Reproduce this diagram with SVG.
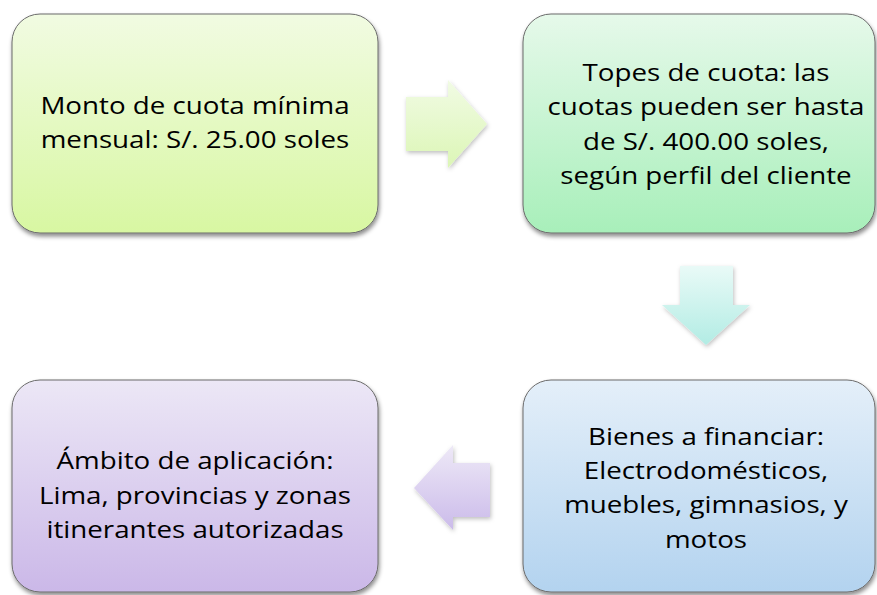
<svg xmlns="http://www.w3.org/2000/svg" width="877" height="595" viewBox="0 0 877 595">
  <defs>
    <linearGradient id="gGreenYellow" x1="0" y1="0" x2="0" y2="1">
      <stop offset="0" stop-color="#f1fbe2"/>
      <stop offset="1" stop-color="#d8f7a2"/>
    </linearGradient>
    <linearGradient id="gMint" x1="0" y1="0" x2="0" y2="1">
      <stop offset="0" stop-color="#e6f9ea"/>
      <stop offset="1" stop-color="#a8efba"/>
    </linearGradient>
    <linearGradient id="gBlue" x1="0" y1="0" x2="0" y2="1">
      <stop offset="0" stop-color="#e4eff9"/>
      <stop offset="1" stop-color="#b3d3ef"/>
    </linearGradient>
    <linearGradient id="gLav" x1="0" y1="0" x2="0" y2="1">
      <stop offset="0" stop-color="#ece7f6"/>
      <stop offset="1" stop-color="#cbb8e8"/>
    </linearGradient>
    <linearGradient id="aGreen" x1="0" y1="0" x2="0" y2="1">
      <stop offset="0" stop-color="#f1fbe4"/>
      <stop offset="1" stop-color="#dcf6b6"/>
    </linearGradient>
    <linearGradient id="aCyan" x1="0" y1="0" x2="0" y2="1">
      <stop offset="0" stop-color="#e9faf7"/>
      <stop offset="1" stop-color="#b2ece4"/>
    </linearGradient>
    <linearGradient id="aLav" x1="0" y1="0" x2="0" y2="1">
      <stop offset="0" stop-color="#eee9f7"/>
      <stop offset="1" stop-color="#cbbbea"/>
    </linearGradient>
    <filter id="shadow" x="-10%" y="-10%" width="120%" height="125%">
      <feDropShadow dx="1" dy="3" stdDeviation="2" flood-color="#000" flood-opacity="0.45"/>
    </filter>
    <filter id="ashadow" x="-20%" y="-20%" width="140%" height="140%">
      <feDropShadow dx="1" dy="2" stdDeviation="2" flood-color="#000" flood-opacity="0.25"/>
    </filter>
  </defs>
  <style>
    .box { stroke: #6b6b6b; stroke-width: 1; filter: url(#shadow); }
    .lbl { font-family: "Open Sans", "Noto Sans", sans-serif; font-size: 23.5px; fill: #000; text-anchor: middle; font-variant-ligatures: none; }
    .arr { filter: url(#ashadow); }
  </style>
  <rect width="877" height="595" fill="#ffffff"/>

  <g id="connectors">
    <path class="arr" fill="url(#aGreen)" d="M406,97 H448 V80 L487,124 L448,168 V151 H406 Z"/>
    <path class="arr" fill="url(#aCyan)" d="M680,266 H733 V305 H750 L706,345 L662,305 H680 Z"/>
    <path class="arr" fill="url(#aLav)" d="M490,463 H453 V445 L414,488 L453,530 V517 H490 Z"/>
  </g>

  <g id="node-cuota-minima">
    <rect class="box" x="12" y="14" width="366" height="219" rx="28" fill="url(#gGreenYellow)"/>
    <text class="lbl" transform="translate(195,114) scale(1.18,1)">Monto de cuota mínima</text>
    <text class="lbl" transform="translate(195,148) scale(1.18,1)">mensual: S/. 25.00 soles</text>
  </g>

  <g id="node-topes">
    <rect class="box" x="523" y="14" width="352" height="219" rx="28" fill="url(#gMint)"/>
    <text class="lbl" transform="translate(706,81) scale(1.18,1)">Topes de cuota: las</text>
    <text class="lbl" transform="translate(706,115) scale(1.18,1)">cuotas pueden ser hasta</text>
    <text class="lbl" transform="translate(706,150) scale(1.18,1)">de S/. 400.00 soles,</text>
    <text class="lbl" transform="translate(706,184) scale(1.18,1)">según perfil del cliente</text>
  </g>

  <g id="node-bienes">
    <rect class="box" x="523" y="380" width="352" height="212" rx="28" fill="url(#gBlue)"/>
    <text class="lbl" transform="translate(706,445) scale(1.18,1)">Bienes a financiar:</text>
    <text class="lbl" transform="translate(706,479) scale(1.18,1)">Electrodomésticos,</text>
    <text class="lbl" transform="translate(706,513) scale(1.18,1)">muebles, gimnasios, y</text>
    <text class="lbl" transform="translate(706,548) scale(1.18,1)">motos</text>
  </g>

  <g id="node-ambito">
    <rect class="box" x="12" y="380" width="366" height="212" rx="28" fill="url(#gLav)"/>
    <text class="lbl" transform="translate(195,469) scale(1.18,1)">Ámbito de aplicación:</text>
    <text class="lbl" transform="translate(195,504) scale(1.18,1)">Lima, provincias y zonas</text>
    <text class="lbl" transform="translate(195,538) scale(1.18,1)">itinerantes autorizadas</text>
  </g>
</svg>
